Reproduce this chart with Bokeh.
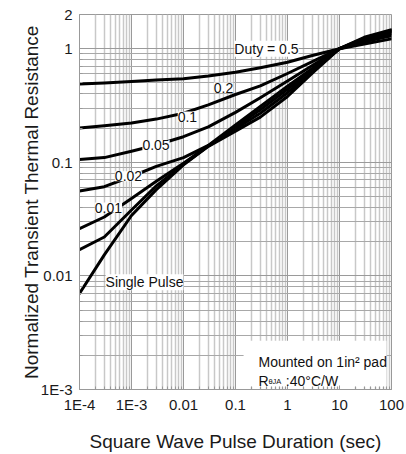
from bokeh.plotting import figure
from bokeh.models import (ColumnDataSource, FixedTicker, CustomJSTickFormatter,
                          LabelSet, Label, BoxAnnotation)
from bokeh.core.properties import value
from bokeh.embed import file_html
from bokeh.resources import INLINE

# Pulse durations (s) at which each curve is sampled
pulse_time = [1e-4, 3e-4, 1e-3, 3e-3, 1e-2, 3e-2, 0.1, 0.3, 1, 3, 10, 30, 100]

# Normalized transient thermal resistance for each duty cycle
duty_05 = [0.49, 0.50, 0.515, 0.53, 0.545, 0.575, 0.62, 0.68, 0.76, 0.87, 1.0, 1.10, 1.22]
duty_02 = [0.20, 0.21, 0.222, 0.24, 0.27, 0.32, 0.395, 0.47, 0.605, 0.77, 1.0, 1.15, 1.30]
duty_01 = [0.106, 0.11, 0.125, 0.142, 0.168, 0.205, 0.275, 0.37, 0.52, 0.71, 1.0, 1.18, 1.36]
duty_005 = [0.056, 0.061, 0.075, 0.092, 0.11, 0.141, 0.213, 0.31, 0.467, 0.67, 1.0, 1.20, 1.40]
duty_002 = [0.026, 0.033, 0.048, 0.068, 0.098, 0.14, 0.205, 0.29, 0.44, 0.655, 1.0, 1.22, 1.43]
duty_001 = [0.017, 0.022, 0.038, 0.062, 0.096, 0.139, 0.197, 0.27, 0.41, 0.63, 1.0, 1.24, 1.45]
single_pulse = [0.007, 0.0153, 0.034, 0.0575, 0.095, 0.138, 0.188, 0.25, 0.38, 0.61, 1.0, 1.26, 1.47]

curves = [duty_05, duty_02, duty_01, duty_005, duty_002, duty_001, single_pulse]

# Curve labels and where they sit (data coordinates)
curve_labels = ["Duty = 0.5", "0.2", "0.1", "0.05", "0.02", "0.01", "Single Pulse"]
label_x = [0.394, 0.0587, 0.0119, 0.00296, 8.75e-4, 3.6e-4, 1.78e-3]
label_y = [1.0, 0.455, 0.253, 0.142, 0.0755, 0.040, 0.0088]

# Axis ticks
x_ticks = [1e-4, 1e-3, 1e-2, 0.1, 1, 10, 100]
x_tick_labels = ["1E-4", "1E-3", "0.01", "0.1", "1", "10", "100"]
y_ticks = [1e-3, 1e-2, 0.1, 1, 2]
y_tick_labels = ["1E-3", "0.01", "0.1", "1", "2"]

x_minor = [m * 10.0 ** e for e in range(-4, 2) for m in range(2, 10)]
y_minor = [m * 10.0 ** e for e in range(-3, 0) for m in range(2, 10)]

FONT = "Liberation Sans"

p = figure(width=406, height=454, x_axis_type="log", y_axis_type="log",
           x_range=(1e-4, 100), y_range=(1e-3, 2),
           output_backend="svg", toolbar_location=None,
           min_border_left=79, min_border_right=15,
           min_border_top=14, min_border_bottom=64)
p.background_fill_color = "white"
p.border_fill_color = "white"
p.outline_line_color = "#999999"

fmt_code = """
let best = 0;
for (let i = 0; i < vals.length; i++) {
  if (Math.abs(Math.log10(tick) - Math.log10(vals[i])) <
      Math.abs(Math.log10(tick) - Math.log10(vals[best]))) best = i;
}
return labs[best];
"""

xt = FixedTicker(ticks=x_ticks, minor_ticks=x_minor)
yt = FixedTicker(ticks=y_ticks, minor_ticks=y_minor)
p.xaxis.ticker = xt
p.yaxis.ticker = yt
p.xgrid.ticker = xt
p.ygrid.ticker = yt
p.xaxis.formatter = CustomJSTickFormatter(args=dict(vals=x_ticks, labs=x_tick_labels), code=fmt_code)
p.yaxis.formatter = CustomJSTickFormatter(args=dict(vals=y_ticks, labs=y_tick_labels), code=fmt_code)

p.xgrid.grid_line_color = "#9a9a9a"
p.xgrid.minor_grid_line_color = "#c8c8c8"
p.xgrid.minor_grid_line_width = 1.5
p.ygrid.grid_line_color = "#9a9a9a"
p.ygrid.minor_grid_line_color = "#a8a8a8"

for ax in (p.xaxis[0], p.yaxis[0]):
    ax.axis_line_color = "#999999"
    ax.major_tick_out = 0
    ax.minor_tick_out = 0
    ax.major_tick_in = 4
    ax.minor_tick_in = 3
    ax.major_tick_line_color = "#999999"
    ax.minor_tick_line_color = "#999999"
    ax.major_label_text_font = FONT
    ax.major_label_text_font_size = "15px"
    ax.major_label_text_color = "#1a1a1a"
    ax.axis_label_text_font = FONT
    ax.axis_label_text_font_size = "19px"
    ax.axis_label_text_font_style = "normal"
    ax.axis_label_text_color = "#1a1a1a"

p.xaxis.axis_label = "Square Wave Pulse Duration (sec)"
p.yaxis.axis_label = "Normalized Transient Thermal Resistance"
p.xaxis.major_label_standoff = 6
p.xaxis.axis_label_standoff = 15
p.yaxis.major_label_standoff = 7
p.yaxis.axis_label_standoff = -4

# Curves
for vals in curves:
    p.line(pulse_time, vals, line_color="black", line_width=3,
           line_cap="round", line_join="round")

# Curve labels on white patches
lab_src = ColumnDataSource(dict(x=label_x, y=label_y, text=curve_labels))
p.add_layout(LabelSet(x="x", y="y", text="text", source=lab_src,
                      text_align=value("center"), text_baseline=value("middle"),
                      text_font=value(FONT), text_font_size=value("14px"),
                      text_color=value("#111111"),
                      background_fill_color=value("white"),
                      background_fill_alpha=1.0))

# Mounting note in the lower right corner
p.add_layout(BoxAnnotation(left=0.143, right=80, bottom=1.06e-3, top=2.69e-3,
                           fill_color="white", fill_alpha=1.0, line_color=None,
                           level="underlay"))
note_style = dict(text_font=FONT, text_color="#111111", text_baseline="alphabetic")
p.add_layout(Label(x=0.277, y=1.73e-3, text="Mounted on 1in\u00b2 pad",
                   text_font_size="14px", **note_style))
p.add_layout(Label(x=0.277, y=1.2e-3, text="R", text_font_size="14px", **note_style))
p.add_layout(Label(x=0.43, y=1.17e-3, text="\u03b8JA", text_font_size="7.5px", **note_style))
p.add_layout(Label(x=0.93, y=1.2e-3, text=":40\u00b0C/W", text_font_size="14px", **note_style))

open("out.html", "w").write(file_html(p, INLINE))
